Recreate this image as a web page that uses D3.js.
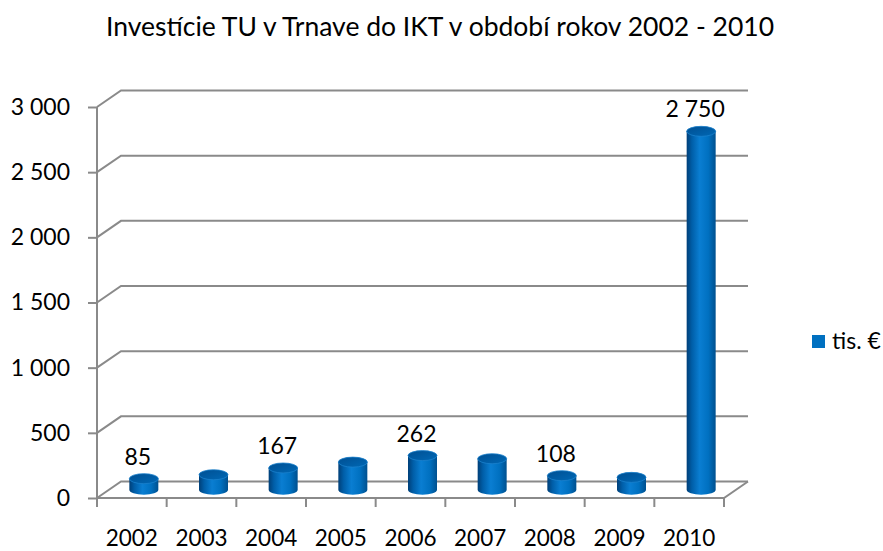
<!DOCTYPE html>
<html>
<head>
<meta charset="utf-8">
<script src="https://cdn.jsdelivr.net/npm/d3@7"></script>
<style>
  body { margin: 0; background: #fff; }
  svg { display: block; font-family: Lato, "Open Sans", sans-serif; }
</style>
</head>
<body>
<div id="chart"></div>
<script>
// Data
const years = ["2002", "2003", "2004", "2005", "2006", "2007", "2008", "2009", "2010"];
const values = [85, 115, 167, 212, 262, 238, 108, 95, 2750];
const labelledYears = ["2002", "2004", "2006", "2008", "2010"];
const yTicks = [0, 500, 1000, 1500, 2000, 2500, 3000];
const seriesName = "tis. €";
const title = "Investície TU v Trnave do IKT v období rokov 2002 - 2010";

const W = 883, H = 551;
const depth = { dx: 24, dy: -16.5 };   // 3D wall offset
const gridColor = "#8a8a8a";

const svg = d3.select("#chart").append("svg")
    .attr("width", W)
    .attr("height", H);

const locale = d3.formatLocale({ decimal: ",", thousands: "\u00a0", grouping: [3], currency: ["", " €"] });
const fmt = locale.format(",d");

// Scales (front plane)
const x = d3.scaleBand().domain(years).range([97, 724]).padding(0);
const y = d3.scaleLinear().domain([0, 3000]).range([498, 107]);

// Title
svg.append("text")
    .attr("x", 440)
    .attr("y", 36)
    .attr("text-anchor", "middle")
    .style("font-size", "26.5px")
    .attr("fill", "#000")
    .text(title);

// Gridlines with diagonal back-wall joins
const grid = svg.append("g").attr("stroke", gridColor).attr("stroke-width", 2).attr("fill", "none");
grid.selectAll("path.grid")
    .data(yTicks)
    .join("path")
    .attr("class", "grid")
    .attr("d", t => {
        const x0 = x.range()[0];
        const y0 = y(t);
        return `M${x0},${y0} L${x0 + depth.dx},${y0 + depth.dy} L${x.range()[1] + depth.dx},${y0 + depth.dy}`;
    });

// Floor front edge and right diagonal
grid.append("path")
    .attr("d", `M${x.range()[0]},${y(0)} L${x.range()[1]},${y(0)} L${x.range()[1] + depth.dx},${y(0) + depth.dy}`);

// Vertical axis line
grid.append("line")
    .attr("x1", x.range()[0]).attr("x2", x.range()[0])
    .attr("y1", y(0)).attr("y2", y(3000));

// Y axis ticks and labels
const yAxis = d3.axisLeft(y).tickValues(yTicks).tickFormat(fmt).tickSize(9).tickPadding(18);
const yG = svg.append("g")
    .attr("transform", `translate(${x.range()[0]},0)`)
    .call(yAxis);
yG.select(".domain").remove();
yG.selectAll(".tick line").attr("stroke", gridColor).attr("stroke-width", 2);
yG.selectAll(".tick text")
    .attr("fill", "#000")
    .style("font-family", "Lato, 'Open Sans', sans-serif")
    .style("font-size", "23px");

// X axis ticks at band boundaries and labels
const boundaries = years.map(d => x(d)).concat([x.range()[1]]);
svg.append("g")
    .selectAll("line")
    .data(boundaries)
    .join("line")
    .attr("x1", d => d).attr("x2", d => d)
    .attr("y1", y(0)).attr("y2", y(0) + 9)
    .attr("stroke", gridColor)
    .attr("stroke-width", 2);

svg.append("g")
    .selectAll("text")
    .data(years)
    .join("text")
    .attr("x", d => x(d) + x.bandwidth() / 2)
    .attr("y", 546)
    .attr("text-anchor", "middle")
    .style("font-size", "22.5px")
    .attr("fill", "#000")
    .text(d => d);

// Gradients for cylinders
const defs = svg.append("defs");
const bodyGrad = defs.append("linearGradient").attr("id", "cyl-body").attr("x1", "0").attr("x2", "1").attr("y1", "0").attr("y2", "0");
bodyGrad.append("stop").attr("offset", "0%").attr("stop-color", "#003f78");
bodyGrad.append("stop").attr("offset", "18%").attr("stop-color", "#005ea8");
bodyGrad.append("stop").attr("offset", "45%").attr("stop-color", "#0a7ed2");
bodyGrad.append("stop").attr("offset", "75%").attr("stop-color", "#0070c0");
bodyGrad.append("stop").attr("offset", "100%").attr("stop-color", "#00508f");
const topGrad = defs.append("linearGradient").attr("id", "cyl-top").attr("x1", "0").attr("x2", "1").attr("y1", "0").attr("y2", "1");
topGrad.append("stop").attr("offset", "0%").attr("stop-color", "#004f92");
topGrad.append("stop").attr("offset", "100%").attr("stop-color", "#0068b5");

// Cylinders
const rx = 14.5, ry = 5;
const bars = years.map((d, i) => ({ year: d, value: values[i] }));
const cx = d => x(d.year) + x.bandwidth() / 2 + depth.dx / 2;
const yTop = d => y(d.value) + depth.dy / 2;
const yBase = y(0) + depth.dy / 2;

const cyl = svg.append("g").selectAll("g").data(bars).join("g");
cyl.append("path")
    .attr("fill", "url(#cyl-body)")
    .attr("d", d => {
        const c = cx(d), t = yTop(d);
        return `M${c - rx},${t} L${c - rx},${yBase} A${rx},${ry} 0 0 0 ${c + rx},${yBase} L${c + rx},${t} Z`;
    });
cyl.append("ellipse")
    .attr("cx", cx)
    .attr("cy", yTop)
    .attr("rx", rx)
    .attr("ry", ry)
    .attr("fill", "url(#cyl-top)")
    .attr("stroke", "#1a80cc")
    .attr("stroke-width", 0.8);

// Data labels
svg.append("g")
    .selectAll("text")
    .data(bars.filter(d => labelledYears.includes(d.year)))
    .join("text")
    .attr("x", d => cx(d) - 6)
    .attr("y", d => yTop(d) - 14)
    .attr("text-anchor", "middle")
    .style("font-size", "23px")
    .attr("fill", "#000")
    .text(d => fmt(d.value));

// Legend
const legend = svg.append("g").attr("transform", "translate(812,335)");
legend.append("rect").attr("width", 13).attr("height", 13).attr("fill", "#0070c0");
legend.append("text")
    .attr("x", 20)
    .attr("y", 14)
    .style("font-size", "23px")
    .attr("fill", "#000")
    .text(seriesName);
</script>
</body>
</html>
